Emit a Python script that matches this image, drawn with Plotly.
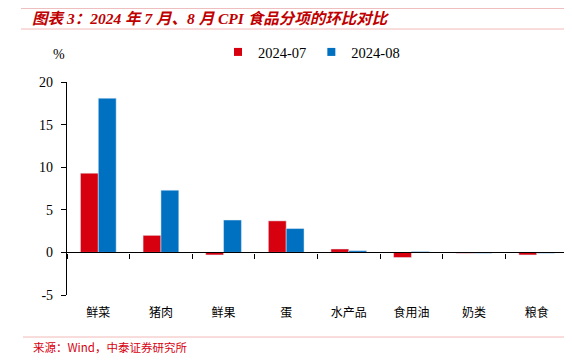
import plotly.graph_objects as go

categories = ["鲜菜", "猪肉", "鲜果", "蛋", "水产品", "食用油", "奶类", "粮食"]
jul_2024 = [9.3, 2.0, -0.3, 3.7, 0.4, -0.6, -0.1, -0.3]
aug_2024 = [18.1, 7.3, 3.8, 2.8, 0.2, 0.1, -0.1, -0.1]
series_names = ["2024-07", "2024-08"]
y_ticks = [-5, 0, 5, 10, 15, 20]
y_tick_labels = ["-5", "0", "5", "10", "15", "20"]

RED = "#D7000F"
BLUE = "#0070C0"
TITLE_RED = "#C00000"

# page body has an 8px margin; plot area in window coords: x 67..568, y 82..295
L, T, PW, PH = 67, 82, 501, 213


def px(wx):
    return (wx - L) / PW


def py(wy):
    return 1 + (T - wy) / PH


fig = go.Figure()
fig.add_trace(go.Bar(x=categories, y=jul_2024, name=series_names[0], marker_color=RED,
                     showlegend=False))
fig.add_trace(go.Bar(x=categories, y=aug_2024, name=series_names[1], marker_color=BLUE,
                     showlegend=False))
# legend proxies with small square symbols
for nm, col in zip(series_names, [RED, BLUE]):
    fig.add_trace(go.Scatter(x=[None], y=[None], mode="markers", name=nm,
                             marker=dict(symbol="square", size=8, color=col)))
# invisible trace to host the zero-line axis
fig.add_trace(go.Scatter(x=categories, y=[0] * len(categories), xaxis="x2", mode="lines",
                         line=dict(width=0), showlegend=False, hoverinfo="skip"))

fig.update_layout(
    width=572, height=364,
    margin=dict(l=L - 8, r=572 - (L + PW - 8), t=T - 8, b=364 - (T + PH - 8), autoexpand=False),
    paper_bgcolor="white", plot_bgcolor="white",
    barmode="group", bargap=0.43, bargroupgap=0,
    font=dict(family="Liberation Serif, Noto Sans CJK SC", size=13, color="#000"),
    showlegend=True,
    legend=dict(orientation="h", x=px(218), xanchor="left", yref="container",
                y=1 - (52 - 8) / 364, yanchor="middle",
                font=dict(family="Liberation Serif", size=14.5), itemwidth=30,
                traceorder="normal", tracegroupgap=0),
    xaxis=dict(showline=False, ticks="", showgrid=False, zeroline=False, automargin=False,
               ticklabelstandoff=9,
               tickfont=dict(family="Noto Sans CJK SC", size=12), fixedrange=True),
    xaxis2=dict(overlaying="x", matches="x", anchor="free", position=0.2, automargin=False,
                showline=True, linecolor="#000", linewidth=1.3,
                ticks="outside", tickson="boundaries", ticklen=5, tickcolor="#000",
                showticklabels=False, showgrid=False, zeroline=False),
    yaxis=dict(range=[-5, 20], tickvals=y_ticks, ticktext=y_tick_labels, showline=True,
               linecolor="#000", linewidth=1.3, ticks="outside", ticklen=5, tickcolor="#000",
               showgrid=False, zeroline=False, automargin=False, ticklabelstandoff=5,
               tickfont=dict(family="Liberation Serif", size=14)),
)

# header / footer decorations
fig.add_shape(type="line", xref="paper", yref="paper", x0=px(21), x1=px(580),
              y0=py(7), y1=py(7), line=dict(color=TITLE_RED, width=2.5))
fig.add_shape(type="line", xref="paper", yref="paper", x0=px(21), x1=px(580),
              y0=py(29), y1=py(29), line=dict(color="#F2B8B8", width=1))
fig.add_shape(type="line", xref="paper", yref="paper", x0=px(23), x1=px(580),
              y0=py(337), y1=py(337), line=dict(color="#F2B8B8", width=1))

fig.add_annotation(xref="paper", yref="paper", x=px(30), y=py(18),
                   xanchor="left", yanchor="middle", showarrow=False,
                   text="<b><i>图表 3：2024 年 7 月、8 月 CPI 食品分项的环比对比</i></b>",
                   font=dict(family="Liberation Serif, Noto Sans CJK SC", size=15.5, color=TITLE_RED))
fig.add_annotation(xref="paper", yref="paper", x=px(51), y=py(55),
                   xanchor="left", yanchor="middle", showarrow=False, text="%",
                   font=dict(family="Liberation Serif", size=14, color="#000"))
fig.add_annotation(xref="paper", yref="paper", x=px(31), y=py(347),
                   xanchor="left", yanchor="middle", showarrow=False,
                   text="来源：Wind，中泰证券研究所",
                   font=dict(family="Noto Sans CJK SC", size=11.5, color="#D7000F"))

fig.write_html("out.html")
